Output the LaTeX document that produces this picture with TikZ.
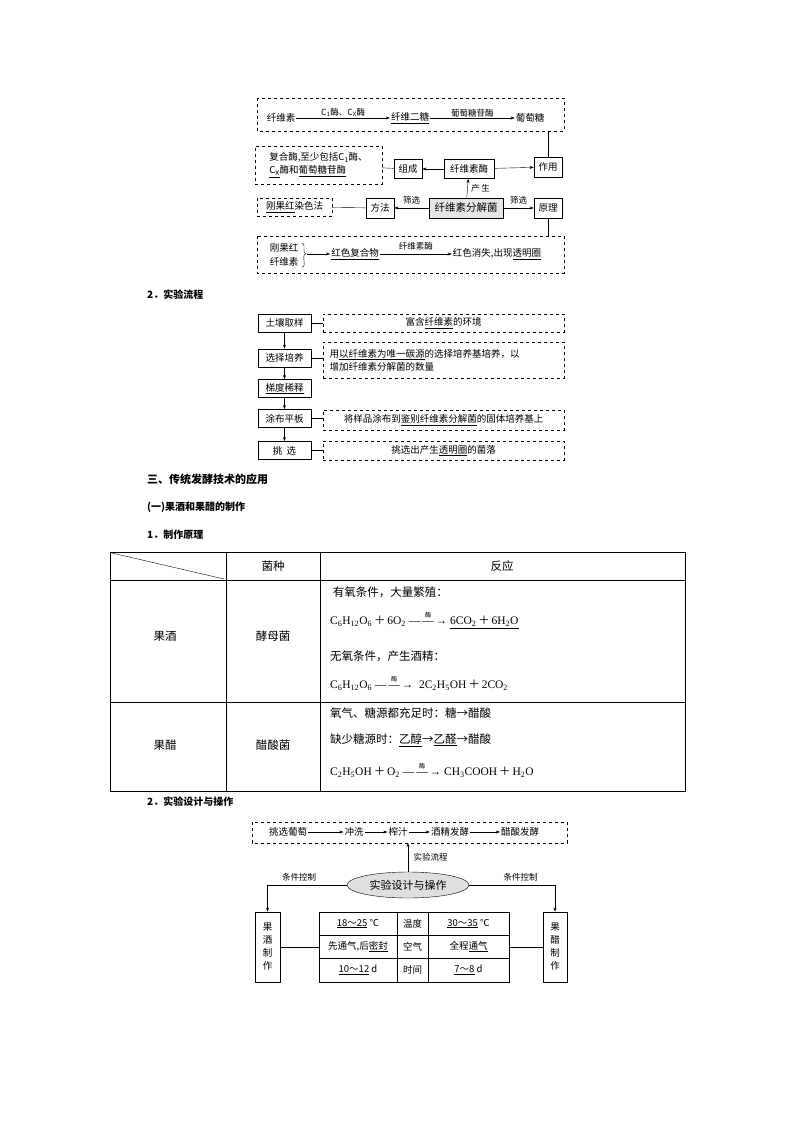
\documentclass[tikz,border=0pt]{standalone}
\usepackage{fontspec}
\setmainfont{Noto Sans CJK SC}
\newfontfamily\lat{Liberation Serif}
\usetikzlibrary{arrows.meta,shapes.geometric}
\newcommand\ul[1]{\underline{#1}}
\newcommand\pl{{\normalfont\,＋\,}}
\newcommand\enz{\ $\stackrel{\raisebox{2pt}{\normalfont\fontsize{6}{6}\selectfont 酶}}{\mbox{\lat —\,—\,→}}$\ }
\begin{document}
\begin{tikzpicture}[x=1pt,y=-1pt,
  sm/.style={font=\fontsize{8.5}{10}\selectfont},
  box/.style={draw,thick,inner sep=2pt,font=\fontsize{9.5}{11}\selectfont},
  dbox/.style={draw,dashed,inner sep=2pt,font=\fontsize{9.5}{13}\selectfont},
  arr/.style={-{Stealth[length=4pt,width=3pt]}},
  tx/.style={font=\fontsize{9.5}{12}\selectfont,inner sep=1pt},
  big/.style={font=\fontsize{11.5}{13}\selectfont,inner sep=1pt},
  head/.style={font=\bfseries\fontsize{10}{12}\selectfont,anchor=west,inner sep=0pt}]
\useasboundingbox (0,0) rectangle (794,1123);
% ===== top diagram
\draw[dashed] (257,98) rectangle (564,131);
\node[tx] (cel) at (281,118) {纤维素};
\node[tx] (cel2) at (410,118) {\ul{纤维二糖}};
\node[tx] (glu) at (530,118) {葡萄糖};
\draw[arr] (cel) -- node[above,sm,inner sep=1pt] {C\textsubscript{1}酶、C\textsubscript{X}酶} (cel2);
\draw[arr] (cel2) -- node[above,sm,inner sep=1pt] {葡萄糖苷酶} (glu);
\node[box,minimum width=28pt,minimum height=20pt] (zy) at (548,167) {作用};
\node[box,minimum width=28pt,minimum height=19pt] (zc) at (408,169) {组成};
\node[box,minimum width=50pt,minimum height=19pt] (xws) at (469,169) {纤维素酶};
\node[dbox,minimum width=127pt,minimum height=38pt,align=left] (fh) at (318.5,165) {复合酶,至少包括C\textsubscript{1}酶、\\\ul{C\textsubscript{X}}酶和\ul{葡萄糖苷酶}};
\coordinate (t1) at (548,131);
\draw (zy) -- (t1);
\draw[arr] (xws) -- (zc);
\draw (zc) -- (fh);
\draw[arr] (xws) -- (zy);
\node[box,fill=gray!20,minimum width=74pt,minimum height=20pt,font=\fontsize{10.5}{12}\selectfont,inner sep=1pt] (fj) at (466,208) {纤维素分解菌};
\node[box,minimum width=28pt,minimum height=20pt] (ff) at (380,208) {方法};
\node[box,minimum width=28pt,minimum height=20pt] (yl) at (548,208) {原理};
\node[dbox,minimum width=75pt,minimum height=18pt] (gg) at (294.5,207) {\ul{刚果红}染色法};
\draw[arr] (fj) -- node[right,sm] {产 生} (xws);
\draw[arr] (fj) -- node[above,sm] {筛选} (ff);
\draw[arr] (fj) -- node[above,sm] {筛选} (yl);
\draw (ff) -- (gg);
\draw[dashed] (257,236) rectangle (564,273);
\coordinate (t2) at (548,236);
\draw (yl) -- (t2);
\node[tx,align=center,font=\fontsize{9.5}{14}\selectfont] (gc) at (284,254.5) {刚果红\\纤维素};
\draw (302,243) to[out=0,in=180] (306,254) to[out=180,in=0] (302,267);
\node[tx] (hs) at (355,254) {\ul{红色复合物}};
\node[tx] (xs) at (497,254) {红色消失,出现\ul{透明圈}};
\coordinate (bb) at (307,254);
\draw[arr] (bb) -- (hs);
\draw[arr] (hs) -- node[above,sm] {纤维素酶} (xs);
% ===== section 2
\node[head] at (147,295) {2．实验流程};
\foreach \n/\y/\t in {a/323/土壤取样,b/358/选择培养,c/388.5/\ul{梯度稀释},d/418.5/涂布平板,e/450.5/挑\ \ 选}
  \node[box,minimum width=53pt,minimum height=18pt,inner sep=1pt] (\n) at (284.5,\y) {\t};
\draw[arr] (a) -- (b); \draw[arr] (b) -- (c); \draw[arr] (c) -- (d); \draw[arr] (d) -- (e);
\node[dbox,minimum width=241pt,minimum height=18pt] (da) at (443.5,323) {富含\ul{纤维素}的环境};
\node[dbox,minimum width=241pt,minimum height=36pt,align=left,text width=228pt,inner xsep=5pt] (db) at (443.5,360) {用\ul{以纤维素为唯一碳源}的选择培养基培养，以\\增加纤维素分解菌的数量};
\node[dbox,minimum width=241pt,minimum height=20pt] (dd) at (443.5,420) {将样品涂布到\ul{鉴别纤维素分解菌}的固体培养基上};
\node[dbox,minimum width=241pt,minimum height=19pt] (de) at (443.5,450.5) {挑选出产生\ul{透明圈}的菌落};
\draw (a) -- (da); \draw (b) -- (db.west|-b); \draw (d) -- (dd.west|-d); \draw (e) -- (de);
% ===== section 3
\node[head,font=\bfseries\fontsize{11}{13}\selectfont] at (147,479) {三、传统发酵技术的应用};
\node[head] at (147,507) {(一)果酒和果醋的制作};
\node[head] at (147,535) {1．制作原理};
% table
\draw (110,552) rectangle (685,791);
\draw (110,580) -- (685,580); \draw (110,702) -- (685,702);
\draw (226,552) -- (226,791); \draw (320,552) -- (320,791);
\draw (112,553) -- (224,579);
\node[big] (h1) at (273,566) {菌种};
\node[big] (h2) at (502,566) {反应};
\node[big] (r1) at (165,636) {果酒};
\node[big] (r1b) at (273,636) {酵母菌};
\node[big] (r2) at (165,745) {果醋};
\node[big] (r2b) at (273,745) {醋酸菌};
\begin{scope}[every node/.style={big,anchor=west}]
\node (l1) at (329,592) {\ 有氧条件，大量繁殖：};
\node (l2) at (329,620) {\lat C\textsubscript{6}H\textsubscript{12}O\textsubscript{6}\pl 6O\textsubscript{2}\enz\underline{6CO\textsubscript{2}\pl 6H\textsubscript{2}O}};
\node (l3) at (329,656) {无氧条件，产生酒精：};
\node (l4) at (329,683) {\lat C\textsubscript{6}H\textsubscript{12}O\textsubscript{6}\enz\ 2C\textsubscript{2}H\textsubscript{5}OH\pl 2CO\textsubscript{2}};
\node (l5) at (329,713) {氧气、糖源都充足时：糖→醋酸};
\node (l6) at (329,740) {缺少糖源时：\ul{乙醇}→\ul{乙醛}→醋酸};
\node (l7) at (329,770) {\lat C\textsubscript{2}H\textsubscript{5}OH\pl O\textsubscript{2}\enz CH\textsubscript{3}COOH\pl H\textsubscript{2}O};
\end{scope}
\node[head] at (147,802) {2．实验设计与操作};
% ===== bottom diagram
\draw[dashed] (252,822) rectangle (567,843);
\node[tx] (p1) at (288,832) {挑选葡萄};
\node[tx] (p2) at (354,832) {冲洗};
\node[tx] (p3) at (398,832) {榨汁};
\node[tx] (p4) at (450,832) {酒精发酵};
\node[tx] (p5) at (520,832) {醋酸发酵};
\draw[arr] (p1) -- (p2); \draw[arr] (p2) -- (p3); \draw[arr] (p3) -- (p4); \draw[arr] (p4) -- (p5);
\node[draw,ellipse,fill=gray!25,minimum width=122pt,minimum height=26pt,inner sep=0pt,font=\fontsize{11}{12}\selectfont] (el) at (408,885) {实验设计与操作};
\coordinate (top) at (408,843);
\draw[arr] (el) -- node[right,sm,xshift=2pt] {实验流程} (top);
\node[box,minimum width=25pt,minimum height=70pt,align=center,font=\fontsize{9.5}{13}\selectfont] (gj) at (267.5,947) {果\\酒\\制\\作};
\node[box,minimum width=24pt,minimum height=70pt,align=center,font=\fontsize{9.5}{13}\selectfont] (gc2) at (555,947) {果\\醋\\制\\作};
\draw[arr] (el.west) -| node[pos=0.3,above,sm] {条件控制} (gj.north);
\draw[arr] (el.east) -| node[pos=0.3,above,sm] {条件控制} (gc2.north);
\draw (319,912) rectangle (509,982);
\draw (319,935) -- (509,935); \draw (319,958) -- (509,958);
\draw (397,912) -- (397,982); \draw (428,912) -- (428,982);
\coordinate (tl) at (319,947); \coordinate (tr) at (509,947);
\draw (gj) -- (tl); \draw (tr) -- (gc2);
\begin{scope}[every node/.style={tx}]
\node (c11) at (358,923.5) {\ul{18～25}\ ℃};
\node (c12) at (412.5,923.5) {温度};
\node (c13) at (468.5,923.5) {\ul{30～35}\ ℃};
\node (c21) at (358,946.5) {先通气,后\ul{密封}};
\node (c22) at (412.5,946.5) {空气};
\node (c23) at (468.5,946.5) {全程\ul{通气}};
\node (c31) at (358,970) {\ul{10～12}\ d};
\node (c32) at (412.5,970) {时间};
\node (c33) at (468.5,970) {\ul{7～8}\ d};
\end{scope}
\end{tikzpicture}
\end{document}
